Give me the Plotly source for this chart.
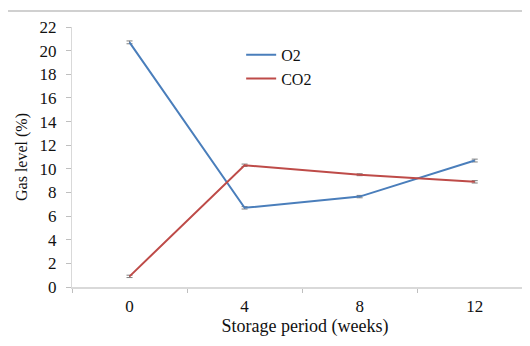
import plotly.graph_objects as go

weeks = ["0", "4", "8", "12"]
o2 = [20.7, 6.7, 7.65, 10.7]
co2 = [0.9, 10.3, 9.5, 8.9]
o2_err = [0.12, 0.1, 0.1, 0.12]
co2_err = [0.1, 0.1, 0.08, 0.1]

fig = go.Figure()
fig.add_trace(go.Scatter(x=weeks, y=o2, name="O2", mode="lines",
                         line=dict(color="#4A7EBB", width=2),
                         error_y=dict(type="data", array=o2_err, color="#7f7f7f", width=3, thickness=1)))
fig.add_trace(go.Scatter(x=weeks, y=co2, name="CO2", mode="lines",
                         line=dict(color="#BE4B48", width=2),
                         error_y=dict(type="data", array=co2_err, color="#7f7f7f", width=3, thickness=1)))

font = "Liberation Serif, Times New Roman, serif"
txt = "#111111"
fig.update_layout(
    width=530, height=346,
    margin=dict(l=64, r=0, t=19, b=67),
    paper_bgcolor="white", plot_bgcolor="white",
    font=dict(family=font, color=txt),
    showlegend=True,
    legend=dict(x=0.363, y=0.958, xanchor="left", yanchor="top",
                font=dict(size=16, family=font, color=txt),
                bgcolor="rgba(0,0,0,0)", tracegroupgap=0, itemwidth=30),
    xaxis=dict(type="category", range=[-0.5, 3.55], tickson="boundaries",
               ticks="outside", ticklen=4, tickcolor="#bfbfbf",
               showline=True, linecolor="#d9d9d9", linewidth=1.5,
               showgrid=False, zeroline=False, ticklabelstandoff=3,
               tickfont=dict(size=17, family=font, color=txt),
               title=dict(text="Storage period (weeks)", standoff=3,
                          font=dict(size=18, family=font, color=txt))),
    yaxis=dict(range=[0, 22], tickvals=list(range(0, 23, 2)),
               ticks="outside", ticklen=5, tickcolor="#bfbfbf",
               showline=True, linecolor="#d9d9d9", linewidth=1,
               showgrid=False, zeroline=False, ticklabelstandoff=6,
               tickfont=dict(size=17, family=font, color=txt),
               title=dict(text="Gas level (%)", standoff=7,
                          font=dict(size=16, family=font, color=txt))),
    shapes=[dict(type="line", xref="paper", yref="paper",
                 x0=-64 / 466, x1=1.0, y0=1 + 16 / 260, y1=1 + 16 / 260,
                 line=dict(color="#d0d0d0", width=2))],
)
fig.write_html("out.html")
